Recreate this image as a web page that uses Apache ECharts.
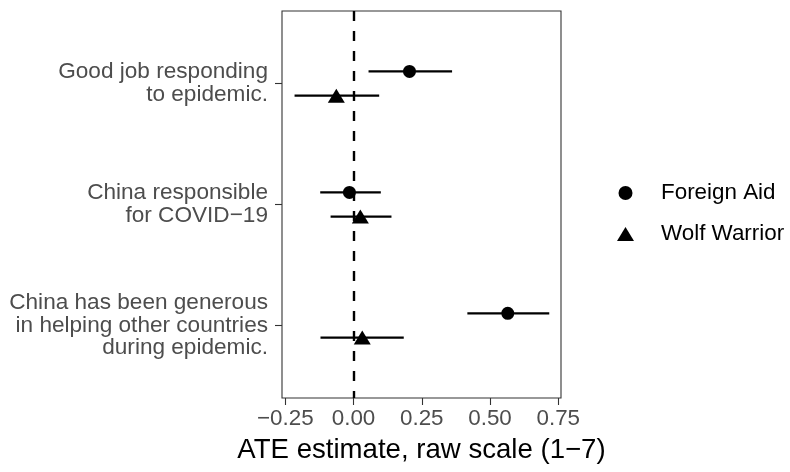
<!DOCTYPE html>
<html>
<head>
<meta charset="utf-8">
<script src="https://cdn.jsdelivr.net/npm/echarts@6/dist/echarts.min.js"></script>
<style>
  html, body { margin: 0; padding: 0; background: #fff; }
  #chart { width: 790px; height: 472px; }
</style>
</head>
<body>
<div id="chart"></div>
<script>
// outcomes, top to bottom
const categories = [
  'Good job responding\nto epidemic.',
  'China responsible\nfor COVID\u221219',
  'China has been generous\nin helping other countries\nduring epidemic.'
];
// Foreign Aid treatment
const aidEst = [0.205, -0.015, 0.565];
const aidLo = [0.055, -0.122, 0.417];
const aidHi = [0.361, 0.100, 0.717];
// Wolf Warrior treatment
const wolfEst = [-0.063, 0.025, 0.032];
const wolfLo = [-0.216, -0.084, -0.121];
const wolfHi = [0.094, 0.139, 0.184];
// x axis ticks
const xTicks = [-0.25, 0, 0.25, 0.5, 0.75];

const font = '"Liberation Sans", Arial, sans-serif';
const dodge = 0.1; // vertical offset of each group

const pts = (est, off) => est.map((v, i) => [v, i + off]);
const bars = (lo, hi, off) => lo.map((v, i) => [v, hi[i], i + off]);

const renderBar = (params, api) => {
  const a = api.coord([api.value(0), api.value(2)]);
  const b = api.coord([api.value(1), api.value(2)]);
  return {
    type: 'line',
    shape: { x1: a[0], y1: a[1], x2: b[0], y2: b[1] },
    style: { stroke: '#000', lineWidth: 2.3 }
  };
};

const chart = echarts.init(document.getElementById('chart'));
chart.setOption({
  animation: false,
  textStyle: { fontFamily: font },
  grid: {
    left: 282, right: 229, top: 11, bottom: 74,
    show: true, borderColor: '#333', borderWidth: 1.1,
    containLabel: false, outerBoundsMode: 'none'
  },
  legend: {
    orient: 'vertical',
    left: 612, top: 177,
    itemWidth: 17, itemHeight: 14,
    itemGap: 19,
    textStyle: { fontSize: 22.4, color: '#000', fontFamily: font, lineHeight: 22, padding: [0, 0, 0, 22] },
    data: [
      { name: 'Foreign Aid', icon: 'circle', itemStyle: { color: '#000' } },
      { name: 'Wolf Warrior', icon: 'triangle', itemStyle: { color: '#000' } }
    ]
  },
  xAxis: {
    type: 'value',
    min: -0.262, max: 0.76,
    splitLine: { show: false },
    axisLine: { show: false, onZero: false },
    axisTick: { show: true, customValues: xTicks, length: 7, lineStyle: { color: '#333', width: 1.1 } },
    axisLabel: {
      customValues: xTicks,
      fontSize: 22.4, color: '#4D4D4D', margin: 10, fontFamily: font,
      formatter: v => (v < 0 ? '\u2212' : '') + Math.abs(v).toFixed(2)
    },
    name: 'ATE estimate, raw scale (1\u22127)',
    nameLocation: 'middle',
    nameGap: 38,
    nameTextStyle: { fontSize: 27.6, color: '#000', fontFamily: font }
  },
  yAxis: {
    type: 'value',
    inverse: true,
    min: -0.6, max: 2.6,
    splitLine: { show: false },
    axisLine: { show: false, onZero: false },
    axisTick: { show: true, customValues: [0, 1, 2], length: 7, lineStyle: { color: '#333', width: 1.1 } },
    axisLabel: {
      customValues: [0, 1, 2],
      fontSize: 22.6, lineHeight: 22.7, color: '#4D4D4D', margin: 14, align: 'right', fontFamily: font,
      formatter: v => categories[Math.round(v)]
    }
  },
  series: [
    {
      name: 'zero', type: 'scatter', data: [], silent: true,
      markLine: {
        silent: true, symbol: 'none', label: { show: false },
        lineStyle: { color: '#000', width: 2.4, type: [10, 10] },
        data: [{ xAxis: 0 }]
      }
    },
    {
      name: 'aidCI', type: 'custom', renderItem: renderBar,
      encode: { x: [0, 1], y: 2 }, data: bars(aidLo, aidHi, -dodge), z: 3
    },
    {
      name: 'wolfCI', type: 'custom', renderItem: renderBar,
      encode: { x: [0, 1], y: 2 }, data: bars(wolfLo, wolfHi, dodge), z: 3
    },
    {
      name: 'Foreign Aid', type: 'scatter', symbol: 'circle', symbolSize: 13,
      itemStyle: { color: '#000', opacity: 1 }, data: pts(aidEst, -dodge), z: 4
    },
    {
      name: 'Wolf Warrior', type: 'scatter', symbol: 'triangle', symbolSize: [17, 14],
      itemStyle: { color: '#000', opacity: 1 }, data: pts(wolfEst, dodge), z: 4
    }
  ]
});
</script>
</body>
</html>
